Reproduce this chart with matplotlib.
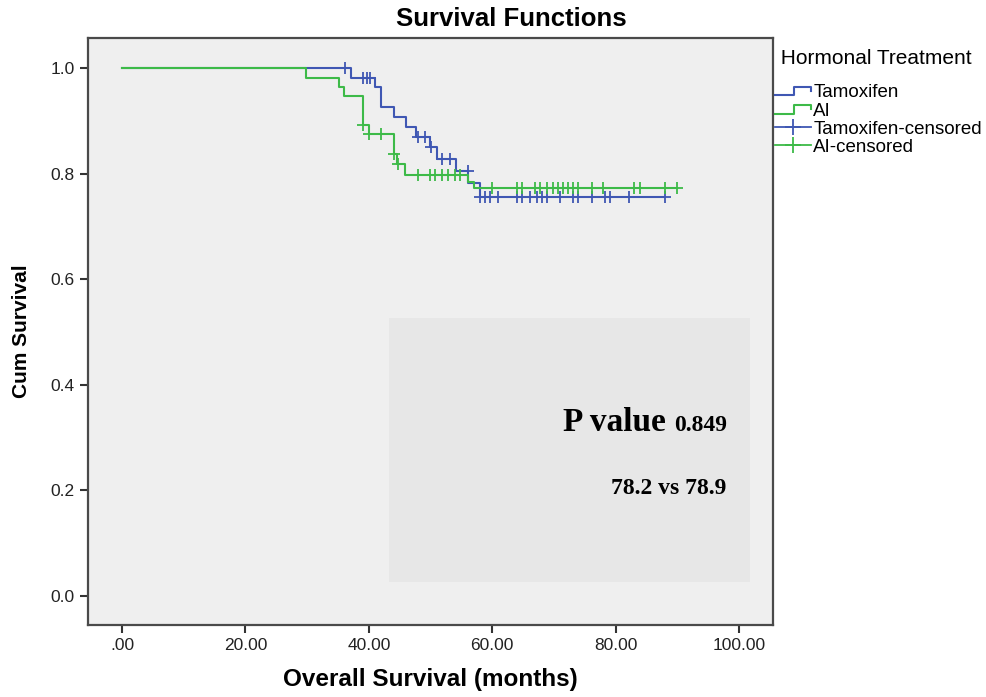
import numpy as np
import matplotlib.pyplot as plt
from matplotlib.lines import Line2D
from matplotlib.patches import Rectangle
from matplotlib.legend_handler import HandlerBase

plt.rcParams['font.family'] = ['Liberation Sans', 'DejaVu Sans']

# Kaplan-Meier steps (time in months, survival after the drop)
tam_times = [0, 37.1, 41.0, 41.9, 44.1, 46.1, 47.7, 49.9, 51.0, 54.1, 56.1, 58.0]
tam_surv = [1.0, 0.982, 0.964, 0.927, 0.908, 0.889, 0.870, 0.851, 0.828, 0.805, 0.782, 0.756]
tam_end = 88.0
tam_censored = [36.1, 39.0, 39.7, 40.2, 48.0, 49.1, 50.0, 51.8, 53.2, 56.0, 58.0, 58.8,
                59.6, 61.0, 64.0, 64.8, 66.1, 67.2, 68.0, 68.8, 71.0, 73.1, 73.9, 76.1,
                78.3, 79.1, 82.1, 88.0]

ai_times = [0, 29.9, 35.2, 36.0, 39.0, 40.0, 44.0, 44.6, 45.9, 56.1, 57.0]
ai_surv = [1.0, 0.982, 0.964, 0.947, 0.892, 0.875, 0.837, 0.818, 0.797, 0.785, 0.772]
ai_end = 90.0
ai_censored = [39.0, 40.0, 41.9, 44.1, 44.8, 48.0, 49.9, 50.8, 51.9, 52.9, 53.9, 54.7,
               59.9, 64.0, 64.8, 66.9, 67.7, 68.8, 69.9, 70.7, 71.5, 72.3, 73.1, 73.9,
               76.1, 78.0, 82.9, 84.0, 88.0, 90.0]

x_ticks = [0, 20, 40, 60, 80, 100]
x_ticklabels = ['.00', '20.00', '40.00', '60.00', '80.00', '100.00']
y_ticks = [0.0, 0.2, 0.4, 0.6, 0.8, 1.0]

p_value = '0.849'
medians = '78.2 vs 78.9'

tam_color = '#3f57b3'
ai_color = '#3dba48'


def surv_at(times, surv, t):
    idx = np.searchsorted(times, t, side='right') - 1
    return np.asarray(surv)[idx]


class StepHandler(HandlerBase):
    # little step-shaped icon like the SPSS legend
    def create_artists(self, legend, orig_handle, xdescent, ydescent,
                       width, height, fontsize, trans):
        x0 = -xdescent
        xs = [x0, x0 + 0.55 * width, x0 + 0.55 * width, x0 + width, x0 + width]
        ys = [0.15 * height, 0.15 * height, 0.8 * height, 0.8 * height, 0.5 * height]
        ys = [y - ydescent for y in ys]
        line = Line2D(xs, ys, color=orig_handle.get_color(),
                      lw=orig_handle.get_linewidth())
        line.set_transform(trans)
        return [line]


fig = plt.figure(figsize=(9.87, 6.97), dpi=100)
ax = fig.add_axes([0.0892, 0.1033, 0.6940, 0.8422])
ax.set_facecolor('#efefef')

# shaded annotation box
ax.add_patch(Rectangle((43.3, 0.027), 58.5, 0.50, facecolor='#e7e7e7',
                       edgecolor='none', zorder=1))

tam_line, = ax.step(tam_times + [tam_end], tam_surv + [tam_surv[-1]], where='post',
                    color=tam_color, lw=1.5, zorder=3)
ai_line, = ax.step(ai_times + [ai_end], ai_surv + [ai_surv[-1]], where='post',
                   color=ai_color, lw=1.5, zorder=4)

ax.plot(tam_censored, surv_at(tam_times, tam_surv, tam_censored), linestyle='none',
        marker='+', markersize=9, markeredgewidth=1.3, color=tam_color, zorder=3)
ax.plot(ai_censored, surv_at(ai_times, ai_surv, ai_censored), linestyle='none',
        marker='+', markersize=9, markeredgewidth=1.3, color=ai_color, zorder=4)

ax.set_xlim(-5.5, 105.5)
ax.set_ylim(-0.055, 1.057)
ax.set_xticks(x_ticks)
ax.set_xticklabels(x_ticklabels)
ax.set_yticks(y_ticks)
ax.set_yticklabels([f'{v:.1f}' for v in y_ticks])
ax.tick_params(length=6, width=1.5, color='#333333', labelsize=12.5, labelcolor='#222222')
for sp in ax.spines.values():
    sp.set_color('#4a4a4a')
    sp.set_linewidth(1.6)

ax.set_xlabel('Overall Survival (months)', fontsize=17.5, fontweight='bold', labelpad=11)
ax.set_ylabel('Cum Survival', fontsize=15, fontweight='bold', labelpad=14)
fig.text(0.518, 0.973, 'Survival Functions', ha='center', va='center',
         fontsize=18.5, fontweight='bold')

# p value / medians text
t_p = ax.text(98.0, 0.313, p_value, ha='right', va='baseline', fontsize=17,
              fontweight='bold', family='Liberation Serif', zorder=5)
ax.annotate('P value', xy=(0, 0.313), xycoords=(t_p, 'data'), xytext=(-6, 0),
            textcoords='offset points', ha='right', va='baseline', fontsize=24,
            fontweight='bold', family='Liberation Serif', zorder=5)
ax.text(98.0, 0.193, medians, ha='right', va='baseline', fontsize=17,
        fontweight='bold', family='Liberation Serif', zorder=5)

# legend
tam_cens_h = Line2D([], [], color=tam_color, lw=1.3, marker='+', markersize=11,
                    markeredgewidth=1.3)
ai_cens_h = Line2D([], [], color=ai_color, lw=1.3, marker='+', markersize=11,
                   markeredgewidth=1.3)
leg = ax.legend([tam_line, ai_line, tam_cens_h, ai_cens_h],
                ['Tamoxifen', 'AI', 'Tamoxifen-censored', 'AI-censored'],
                handler_map={tam_line: StepHandler(), ai_line: StepHandler()},
                title=' Hormonal Treatment', title_fontsize=15, fontsize=13.5,
                loc='upper left', bbox_to_anchor=(1.0, 0.985), frameon=False,
                borderpad=0, borderaxespad=0.1, handlelength=1.9, handletextpad=0.15,
                labelspacing=0.05, numpoints=1, alignment='left')
leg._legend_box.sep = 12

fig.savefig('out.png', dpi=100, facecolor='white')
